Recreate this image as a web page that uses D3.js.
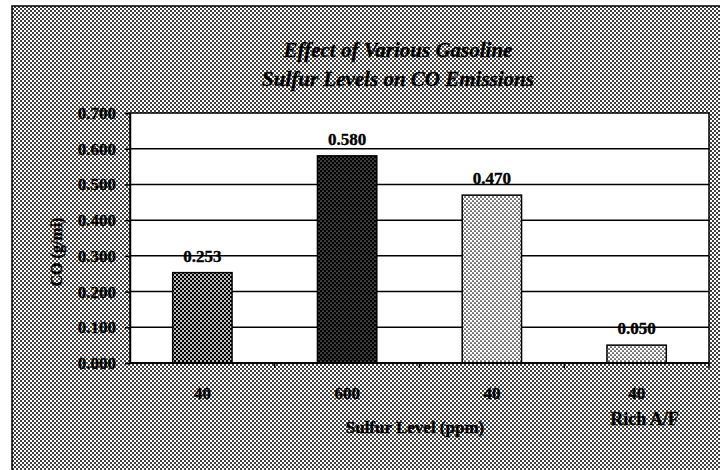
<!DOCTYPE html>
<html lang="en">
<head>
  <meta charset="UTF-8">
  <title>Effect of Various Gasoline Sulfur Levels on CO Emissions</title>
  <style>
    body { margin: 0; background: #fff; }
    text { font-family: "Liberation Serif", "DejaVu Serif", serif; font-weight: bold; fill: #000; stroke: #000; stroke-width: 0.35; }
    .grid line { stroke: #000; stroke-width: 1.5; }
    .axis path, .axis line { stroke: #000; stroke-width: 1.5; }
  </style>
  <script src="https://d3js.org/d3.v7.min.js"></script>
</head>
<body>

<div id="chart"></div>

<script>
  // Data
  var categories = ["A", "B", "C", "D"];
  var sulfurLabels = ["40", "600", "40", "40"];
  var subLabels = ["", "", "", "Rich A/F"];
  var coValues = [0.253, 0.580, 0.470, 0.050];
  var valueLabels = ["0.253", "0.580", "0.470", "0.050"];
  var yTicks = [0, 0.1, 0.2, 0.3, 0.4, 0.5, 0.6, 0.7];

  var width = 720;
  var height = 470;
  var margin = { top: 113, right: 11, bottom: 107, left: 130 };

  var svg = d3.select("#chart").append("svg")
    .attr("width", width)
    .attr("height", height);

  // Halftone patterns
  var defs = svg.append("defs");
  function dots(id, bg, fg, r) {
    var p = defs.append("pattern")
      .attr("id", id)
      .attr("width", 4).attr("height", 4)
      .attr("patternUnits", "userSpaceOnUse");
    p.append("rect").attr("width", 4).attr("height", 4).attr("fill", bg);
    p.append("circle").attr("cx", 1).attr("cy", 1).attr("r", r).attr("fill", fg);
    p.append("circle").attr("cx", 3).attr("cy", 3).attr("r", r).attr("fill", fg);
  }
  dots("bgPat", "#fff", "#000", 1.0);
  dots("darkPat", "#000", "#fff", 1.0);
  dots("blackPat", "#000", "#fff", 0.6);
  dots("lightPat", "#fff", "#000", 0.85);
  var barFills = ["url(#darkPat)", "url(#blackPat)", "url(#lightPat)", "url(#lightPat)"];

  // Outer frame
  svg.append("rect")
    .attr("x", 12).attr("y", 6)
    .attr("width", width).attr("height", height)
    .attr("fill", "url(#bgPat)")
    .attr("stroke", "#000")
    .attr("stroke-width", 1.5);

  // Title
  var title = svg.append("text")
    .attr("text-anchor", "middle")
    .attr("font-style", "italic")
    .attr("font-size", 21);
  title.append("tspan").attr("x", 398).attr("y", 57).text("Effect of Various Gasoline");
  title.append("tspan").attr("x", 398).attr("y", 86).text("Sulfur Levels on CO Emissions");

  // Scales
  var x = d3.scaleBand()
    .domain(categories)
    .range([margin.left, width - margin.right])
    .paddingInner(0.59)
    .paddingOuter(0.295);

  var y = d3.scaleLinear()
    .domain([0, 0.7])
    .range([height - margin.bottom, margin.top]);

  // Plot area
  svg.append("rect")
    .attr("x", margin.left).attr("y", margin.top)
    .attr("width", width - margin.right - margin.left)
    .attr("height", y(0) - margin.top)
    .attr("fill", "#fff");

  // Gridlines
  svg.append("g")
    .attr("class", "grid")
    .selectAll("line")
    .data(yTicks.filter(d => d > 0 && d < 0.7))
    .enter().append("line")
    .attr("x1", margin.left).attr("x2", width - margin.right)
    .attr("y1", d => y(d)).attr("y2", d => y(d));

  // Bars
  svg.append("g")
    .selectAll("rect")
    .data(coValues)
    .enter().append("rect")
    .attr("x", (d, i) => x(categories[i]))
    .attr("y", d => y(d))
    .attr("width", x.bandwidth())
    .attr("height", d => y(0) - y(d))
    .attr("fill", (d, i) => barFills[i])
    .attr("stroke", "#000")
    .attr("stroke-width", 1.5);

  // Value labels
  svg.append("g")
    .selectAll("text")
    .data(coValues)
    .enter().append("text")
    .attr("x", (d, i) => x(categories[i]) + x.bandwidth() / 2)
    .attr("y", d => y(d) - 11)
    .attr("text-anchor", "middle")
    .attr("font-size", 17)
    .text((d, i) => valueLabels[i]);

  // Plot border
  svg.append("rect")
    .attr("x", margin.left).attr("y", margin.top)
    .attr("width", width - margin.right - margin.left)
    .attr("height", y(0) - margin.top)
    .attr("fill", "none")
    .attr("stroke", "#000")
    .attr("stroke-width", 1.5);

  // Y axis
  var yAxis = svg.append("g")
    .attr("class", "axis")
    .attr("transform", "translate(" + margin.left + ",0)")
    .call(d3.axisLeft(y).tickValues(yTicks).tickFormat(d3.format(".3f")).tickSize(5).tickPadding(9));
  yAxis.selectAll("text").attr("font-size", 17).attr("font-family", null);

  // X axis ticks at category boundaries
  var step = x.step();
  var boundaries = d3.range(1, categories.length + 1).map(i => margin.left + i * step);
  svg.append("g")
    .attr("class", "axis")
    .selectAll("line")
    .data(boundaries)
    .enter().append("line")
    .attr("x1", d => d).attr("x2", d => d)
    .attr("y1", y(0)).attr("y2", y(0) + 5);
  svg.append("line")
    .attr("x1", margin.left).attr("x2", width - margin.right)
    .attr("y1", y(0)).attr("y2", y(0))
    .attr("stroke", "#000").attr("stroke-width", 2);

  // Category labels
  svg.append("g")
    .selectAll("text")
    .data(sulfurLabels)
    .enter().append("text")
    .attr("x", (d, i) => x(categories[i]) + x.bandwidth() / 2)
    .attr("y", y(0) + 36)
    .attr("text-anchor", "middle")
    .attr("font-size", 17)
    .text(d => d);

  svg.append("g")
    .selectAll("text")
    .data(subLabels)
    .enter().append("text")
    .attr("x", (d, i) => x(categories[i]) + x.bandwidth() / 2 + 8)
    .attr("y", y(0) + 62)
    .attr("text-anchor", "middle")
    .attr("font-size", 18)
    .text(d => d);

  // Axis titles
  svg.append("text")
    .attr("x", 415)
    .attr("y", 433)
    .attr("text-anchor", "middle")
    .attr("font-size", 17)
    .text("Sulfur Level (ppm)");

  svg.append("text")
    .attr("transform", "translate(62,252) rotate(-90)")
    .attr("text-anchor", "middle")
    .attr("font-size", 16)
    .text("CO (g/mi)");
</script>

</body>
</html>
